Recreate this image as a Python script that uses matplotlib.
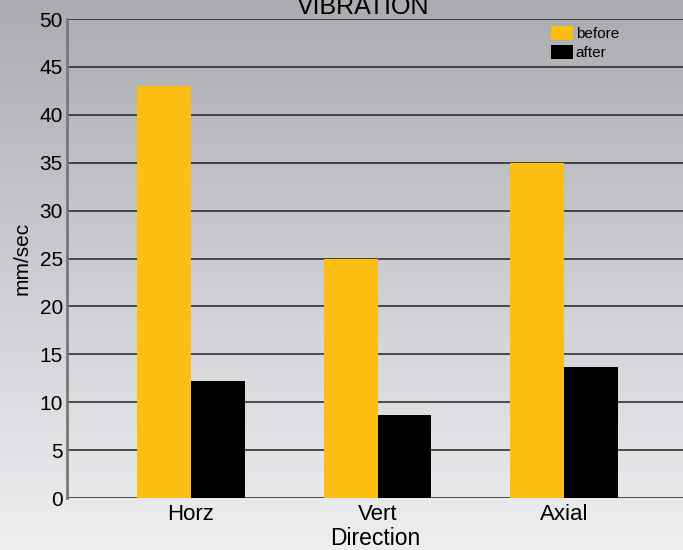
import matplotlib.pyplot as plt
import numpy as np

categories = ['Horz', 'Vert', 'Axial']
before = [43, 25, 35]
after = [12.2, 8.7, 13.7]

plt.rcParams['font.family'] = ['Liberation Sans', 'DejaVu Sans']

fig = plt.figure(figsize=(6.83, 5.5), dpi=100)

# gradient background over the whole figure
bg = fig.add_axes([0, 0, 1, 1], zorder=-10)
grad = np.linspace(0, 1, 256).reshape(-1, 1)
top = np.array([171, 172, 176]) / 255
bot = np.array([238, 239, 241]) / 255
img = top + (bot - top) * grad[:, :, None]
bg.imshow(img, aspect='auto', extent=[0, 1, 0, 1])
bg.axis('off')

ax = fig.add_axes([67 / 683, 52 / 550, 1 - 67 / 683, 479 / 550])
ax.patch.set_alpha(0)

x = np.arange(len(categories))
w = 0.287
ax.bar(x - w / 2, before, w, color='#FDBE14', label='before', zorder=3)
ax.bar(x + w / 2, after, w, color='#000000', label='after', zorder=3)

ax.set_xlim(-0.665, 2.638)
ax.set_ylim(0, 50)
ax.set_yticks(range(0, 51, 5))
ax.set_xticks(x)
ax.set_xticklabels(categories)
ax.yaxis.grid(True, color='#222222', linewidth=1.1, zorder=1)
ax.tick_params(axis='y', length=0, labelsize=15, pad=3)
ax.tick_params(axis='x', length=0, labelsize=16, pad=4)
for s in ['top', 'right', 'bottom']:
    ax.spines[s].set_visible(False)
ax.spines['left'].set_color('#777777')
ax.spines['left'].set_linewidth(2)

ax.set_xlabel('Direction', fontsize=16.5, labelpad=2)
ax.set_ylabel('mm/sec', fontsize=15, labelpad=6)
ax.set_title('VIBRATION', fontsize=18, pad=3, x=0.48)

ax.legend(loc='upper left', bbox_to_anchor=(0.775, 0.998), frameon=False,
          fontsize=11, handlelength=1.45, handleheight=1.05, handletextpad=0.2,
          labelspacing=0.25, borderaxespad=0)

plt.savefig('out.png', dpi=100)
